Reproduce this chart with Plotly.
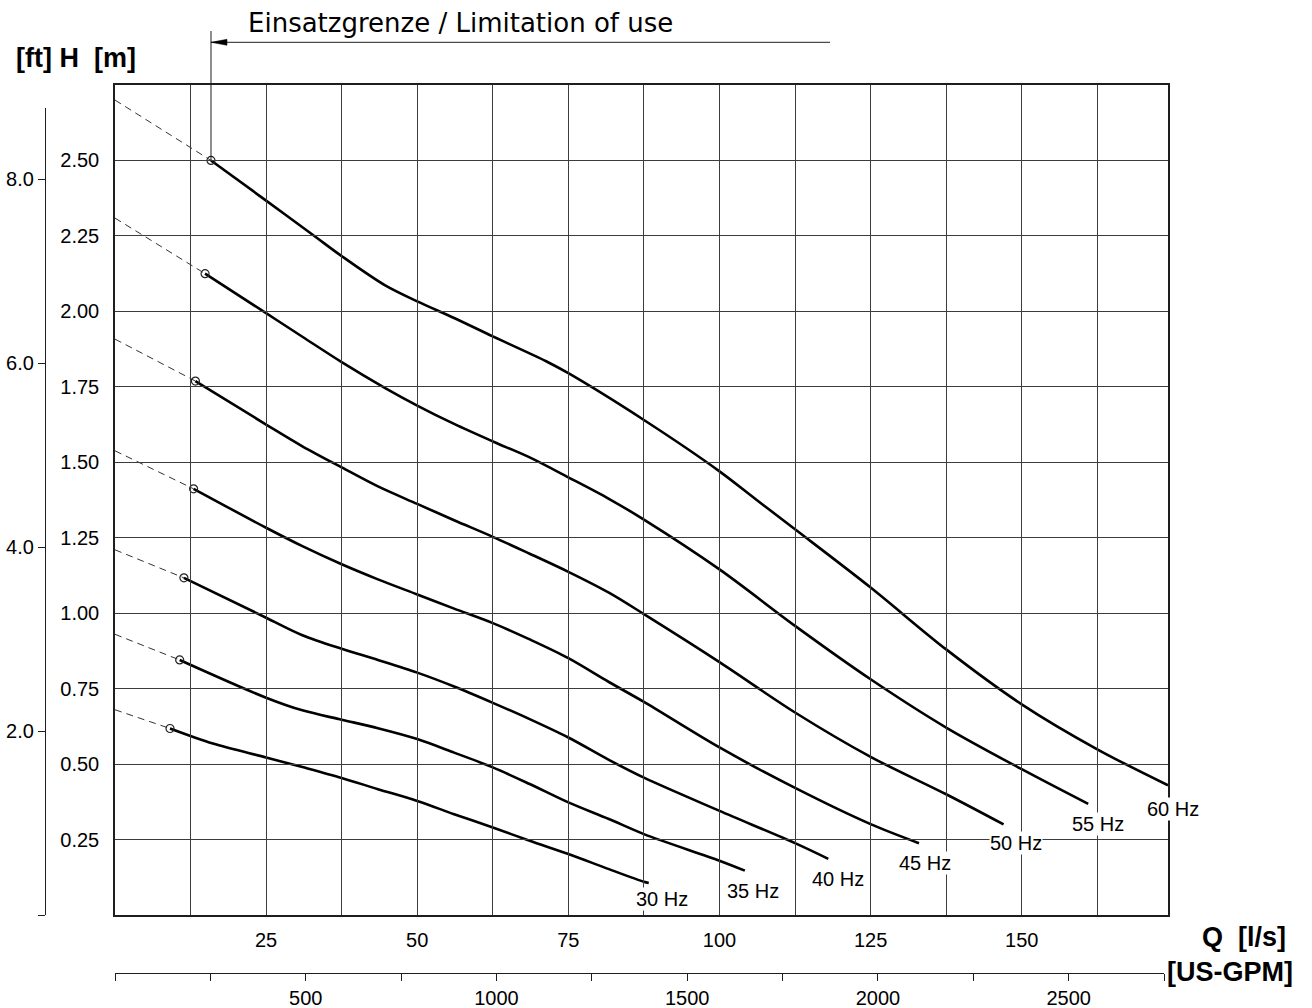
import plotly.graph_objects as go

# ---------------- data ----------------
freq_labels = ["30 Hz", "35 Hz", "40 Hz", "45 Hz", "50 Hz", "55 Hz", "60 Hz"]

# head at Q = 0 (dashed extrapolation start)
h0_30, h0_35, h0_40, h0_45, h0_50, h0_55, h0_60 = 0.680, 0.930, 1.210, 1.538, 1.908, 2.309, 2.700

q30 = [9.1, 16.2, 25, 31.0, 37.5, 43.5, 50, 56.1, 62.5, 68.6, 75, 81.7, 87.5, 88.3]
h30 = [0.618, 0.568, 0.522, 0.490, 0.454, 0.417, 0.378, 0.334, 0.290, 0.246, 0.202, 0.152, 0.110, 0.106]

q35 = [10.7, 25, 31.0, 37.5, 43.5, 50, 56.1, 62.5, 68.6, 75, 81.7, 87.5, 100, 104.2]
h35 = [0.845, 0.720, 0.678, 0.647, 0.619, 0.583, 0.538, 0.489, 0.434, 0.373, 0.318, 0.268, 0.180, 0.147]

q40 = [11.4, 25, 31.0, 37.5, 43.5, 50, 56.1, 62.5, 68.6, 75, 81.7, 87.5, 100, 112.5, 118.0]
h40 = [1.117, 0.985, 0.927, 0.882, 0.845, 0.803, 0.757, 0.703, 0.649, 0.588, 0.514, 0.455, 0.345, 0.238, 0.186]

q45 = [13.0, 25, 31.0, 37.5, 43.5, 50, 56.1, 62.5, 68.6, 75, 81.7, 87.5, 100, 112.5, 125, 133.0]
h45 = [1.412, 1.283, 1.222, 1.162, 1.112, 1.062, 1.015, 0.967, 0.913, 0.851, 0.772, 0.706, 0.555, 0.421, 0.301, 0.238]

q50 = [13.3, 25, 31.0, 37.5, 43.5, 50, 56.1, 62.5, 68.6, 75, 81.7, 87.5, 100, 112.5, 125, 137.5, 147.0]
h50 = [1.769, 1.625, 1.553, 1.483, 1.420, 1.362, 1.308, 1.253, 1.197, 1.137, 1.068, 0.997, 0.838, 0.671, 0.524, 0.400, 0.300]

q55 = [14.9, 25, 31.0, 37.5, 44.7, 50, 56.1, 62.5, 68.6, 75, 81.7, 87.5, 100, 112.5, 125, 137.5, 150, 161.0]
h55 = [2.125, 1.994, 1.916, 1.832, 1.746, 1.688, 1.627, 1.569, 1.516, 1.450, 1.379, 1.310, 1.145, 0.958, 0.781, 0.621, 0.483, 0.368]

q60 = [15.88, 25, 32.7, 37.5, 44.7, 50, 56.1, 62.5, 71.4, 75, 87.5, 100, 106.1, 112.5, 125, 137.5, 150, 162.5, 174.2]
h60 = [2.50, 2.367, 2.254, 2.183, 2.086, 2.033, 1.978, 1.917, 1.834, 1.795, 1.640, 1.470, 1.376, 1.278, 1.085, 0.880, 0.698, 0.549, 0.430]

# label anchor positions (Q [l/s], H [m]) for frequency labels
label_q = [90.5, 105.6, 119.6, 134.0, 149.0, 162.6, 175.0]
label_h = [0.053, 0.078, 0.120, 0.173, 0.240, 0.301, 0.352]

# axis ticks
h_ticks = [0.25, 0.50, 0.75, 1.00, 1.25, 1.50, 1.75, 2.00, 2.25, 2.50]
h_ticktext = ["0.25", "0.50", "0.75", "1.00", "1.25", "1.50", "1.75", "2.00", "2.25", "2.50"]
q_grid = [12.5, 25, 37.5, 50, 62.5, 75, 87.5, 100, 112.5, 125, 137.5, 150, 162.5]
q_ticktext = ["", "25", "", "50", "", "75", "", "100", "", "125", "", "150", ""]
ft_ticks = [0, 2, 4, 6, 8]
ft_ticktext = ["", "2.0", "4.0", "6.0", "8.0"]
gpm_ticks = [0, 250, 500, 750, 1000, 1250, 1500, 1750, 2000, 2250, 2500, 2750]
gpm_ticktext = ["", "", "500", "", "1000", "", "1500", "", "2000", "", "2500", ""]

Q_MAX = 174.2
H_MAX = 2.75
M_TO_FT = 3.28084

# ---------------- layout geometry ----------------
W, H = 1312, 1008
ML, MR, MT, MB = 20, 20, 10, 10
PW, PH = W - ML - MR, H - MT - MB


def pxx(px):
    return (px - ML) / PW


def pxy(py):
    return (H - MB - py) / PH


PLOT_L, PLOT_R, PLOT_T, PLOT_B = 115, 1168, 85, 915
FT_TOP = 108
GPM_RIGHT = 1164
FT_X = 45
GPM_Y = 973.3


def qx(q):
    return pxx(PLOT_L + q / Q_MAX * (PLOT_R - PLOT_L))


def hy(h):
    return pxy(PLOT_B - h / H_MAX * (PLOT_B - PLOT_T))


FONT = "Liberation Sans, Arial, sans-serif"
LINE = "#1e1e1e"
GRID = "#3c3c3c"

fig = go.Figure()

curves = [
    (h0_30, q30, h30), (h0_35, q35, h35), (h0_40, q40, h40), (h0_45, q45, h45),
    (h0_50, q50, h50), (h0_55, q55, h55), (h0_60, q60, h60),
]

for h0, q, h in curves:
    fig.add_trace(go.Scatter(
        x=[0, q[0]], y=[h0, h[0]], mode="lines",
        line=dict(color="#333333", width=1, dash="7px,5px"),
        showlegend=False, hoverinfo="skip", cliponaxis=False))
    fig.add_trace(go.Scatter(
        x=q, y=h, mode="lines",
        line=dict(color="black", width=2.6, shape="spline", smoothing=0.9),
        showlegend=False, cliponaxis=False))
    fig.add_trace(go.Scatter(
        x=[q[0]], y=[h[0]], mode="markers",
        marker=dict(symbol="circle-open", size=8, color="#222222", line=dict(width=1.2)),
        showlegend=False, cliponaxis=False))

# dummy traces to activate the secondary (ft / US-GPM) axes
fig.add_trace(go.Scatter(x=[None], y=[None], xaxis="x", yaxis="y2", showlegend=False))
fig.add_trace(go.Scatter(x=[None], y=[None], xaxis="x2", yaxis="y", showlegend=False))

ft_top_val = (PLOT_B - FT_TOP) / (PLOT_B - PLOT_T) * H_MAX * M_TO_FT
gpm_right_val = 2750

fig.update_layout(
    width=W, height=H,
    margin=dict(l=ML, r=MR, t=MT, b=MB, autoexpand=False),
    paper_bgcolor="white", plot_bgcolor="rgba(0,0,0,0)",
    showlegend=False,
    xaxis=dict(
        domain=[pxx(PLOT_L), pxx(PLOT_R)], range=[0, Q_MAX], anchor="y",
        tickmode="array", tickvals=q_grid, ticktext=q_ticktext,
        ticks="", showgrid=True, gridcolor=GRID, gridwidth=1.2,
        showline=True, linecolor=LINE, linewidth=1.5, mirror=True,
        zeroline=False, ticklabelstandoff=6,
        tickfont=dict(family=FONT, size=20, color="black"),
    ),
    yaxis=dict(
        domain=[pxy(PLOT_B), pxy(PLOT_T)], range=[0, H_MAX], anchor="x",
        tickmode="array", tickvals=h_ticks, ticktext=h_ticktext,
        ticks="", showgrid=True, gridcolor=GRID, gridwidth=1.2,
        showline=True, linecolor=LINE, linewidth=1.5, mirror=True,
        zeroline=False, ticklabelstandoff=10,
        tickfont=dict(family=FONT, size=20, color="black"),
    ),
    yaxis2=dict(
        domain=[pxy(PLOT_B), pxy(FT_TOP)], range=[0, ft_top_val],
        anchor="free", position=pxx(FT_X), side="left",
        tickmode="array", tickvals=ft_ticks, ticktext=ft_ticktext,
        ticks="outside", ticklen=7, tickcolor=LINE, tickwidth=1,
        showline=True, linecolor=LINE, linewidth=1.2,
        showgrid=False, zeroline=False,
        tickfont=dict(family=FONT, size=20, color="black"),
    ),
    xaxis2=dict(
        domain=[pxx(PLOT_L), pxx(GPM_RIGHT)], range=[0, gpm_right_val],
        anchor="free", position=pxy(GPM_Y), side="bottom",
        tickmode="array", tickvals=gpm_ticks, ticktext=gpm_ticktext,
        ticks="outside", ticklen=7, tickcolor=LINE, tickwidth=1,
        showline=True, linecolor=LINE, linewidth=1.2,
        showgrid=False, zeroline=False,
        tickfont=dict(family=FONT, size=20, color="black"),
    ),
)

# frequency labels
for txt, lq, lh in zip(freq_labels, label_q, label_h):
    fig.add_annotation(x=qx(lq), y=hy(lh), xref="paper", yref="paper", text=txt, showarrow=False,
                       font=dict(family=FONT, size=20, color="black"),
                       bgcolor="white", borderpad=0, xanchor="center", yanchor="middle")

# axis titles
fig.add_annotation(x=pxx(14), y=pxy(58), xref="paper", yref="paper",
                   text="[ft] H\u00a0 [m]", showarrow=False, xanchor="left", yanchor="middle",
                   font=dict(family=FONT, size=27, color="black", weight="bold"))
fig.add_annotation(x=pxx(1288), y=pxy(937), xref="paper", yref="paper",
                   text="Q\u00a0 [l/s]", showarrow=False, xanchor="right", yanchor="middle",
                   font=dict(family=FONT, size=27, color="black", weight="bold"))
fig.add_annotation(x=pxx(1295), y=pxy(972), xref="paper", yref="paper",
                   text="[US-GPM]", showarrow=False, xanchor="right", yanchor="middle",
                   font=dict(family=FONT, size=27, color="black", weight="bold"))

# limitation of use marker
lim_q = q60[0]
lim_px = PLOT_L + lim_q / Q_MAX * (PLOT_R - PLOT_L)
fig.add_shape(type="line", xref="x", yref="paper", x0=lim_q, x1=lim_q,
              y0=pxy(31), y1=hy(h60[0]),
              line=dict(color=LINE, width=1))
fig.add_shape(type="line", xref="paper", yref="paper", x0=pxx(lim_px), x1=pxx(830),
              y0=pxy(42.3), y1=pxy(42.3), line=dict(color=LINE, width=1))
fig.add_shape(type="path", xref="paper", yref="paper",
              path=f"M {pxx(lim_px)},{pxy(42.3)} L {pxx(lim_px + 16)},{pxy(39.3)} "
                   f"L {pxx(lim_px + 16)},{pxy(45.3)} Z",
              fillcolor="black", line=dict(color="black", width=0.5))
fig.add_annotation(x=pxx(246), y=pxy(23), xref="paper", yref="paper",
                   text="Einsatzgrenze / Limitation of use", showarrow=False,
                   xanchor="left", yanchor="middle",
                   font=dict(family="DejaVu Sans, Liberation Sans, sans-serif", size=26, color="black"))

fig.write_html("out.html", config={"displayModeBar": False},
               post_script="document.body.style.margin='0px';")
